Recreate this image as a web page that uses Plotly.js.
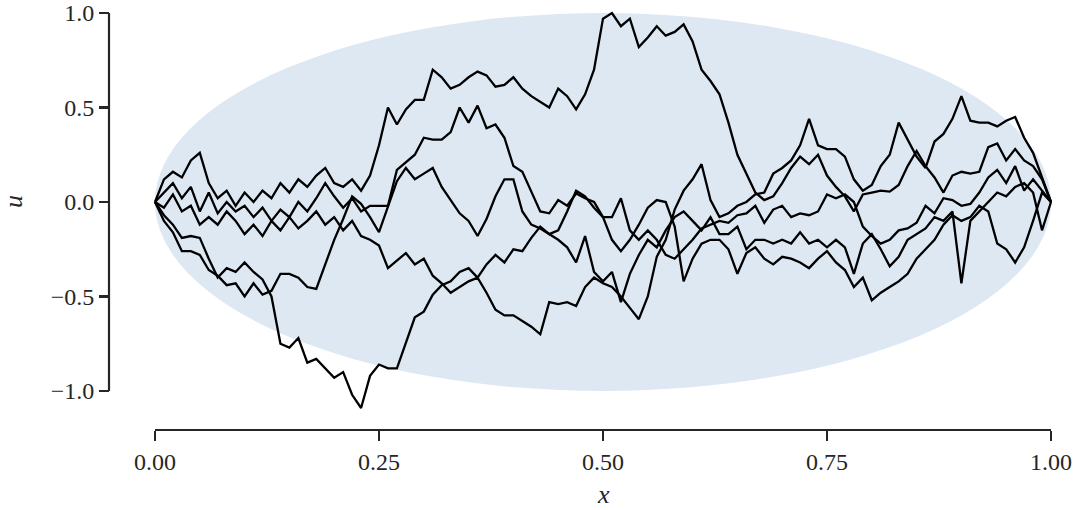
<!DOCTYPE html>
<html>
<head>
<meta charset="utf-8">
<script src="https://cdn.plot.ly/plotly-3.0.1.min.js"></script>
<style>
html,body{margin:0;padding:0;background:#ffffff;}
#chart{width:1081px;height:510px;}
</style>
</head>
<body>
<div id="chart"></div>
<script>
// ---------------- data ----------------
const xGrid = [0,0.01,0.02,0.03,0.04,0.05,0.06,0.07,0.08,0.09,0.1,0.11,0.12,0.13,0.14,0.15,0.16,0.17,0.18,0.19,0.2,0.21,0.22,0.23,0.24,0.25,0.26,0.27,0.28,0.29,0.3,0.31,0.32,0.33,0.34,0.35,0.36,0.37,0.38,0.39,0.4,0.41,0.42,0.43,0.44,0.45,0.46,0.47,0.48,0.49,0.5,0.51,0.52,0.53,0.54,0.55,0.56,0.57,0.58,0.59,0.6,0.61,0.62,0.63,0.64,0.65,0.66,0.67,0.68,0.69,0.7,0.71,0.72,0.73,0.74,0.75,0.76,0.77,0.78,0.79,0.8,0.81,0.82,0.83,0.84,0.85,0.86,0.87,0.88,0.89,0.9,0.91,0.92,0.93,0.94,0.95,0.96,0.97,0.98,0.99,1];

const pathHigh = [0,0.12,0.16,0.13,0.22,0.26,0.1,0.02,0.06,-0.02,0.05,0,0.06,0.02,0.1,0.05,0.12,0.08,0.14,0.18,0.1,0.08,0.12,0.06,0.14,0.3,0.5,0.41,0.49,0.54,0.54,0.7,0.66,0.6,0.62,0.66,0.69,0.67,0.61,0.62,0.66,0.6,0.56,0.53,0.5,0.6,0.56,0.49,0.57,0.7,0.97,1.0,0.93,0.97,0.82,0.87,0.93,0.88,0.9,0.94,0.85,0.7,0.64,0.57,0.42,0.25,0.15,0.05,0.01,0.03,0.1,0.18,0.24,0.2,0.25,0.14,0.08,0.03,-0.05,0.04,0.05,0.06,0.055,0.09,0.19,0.27,0.19,0.13,0.05,0.14,0.16,0.15,0.16,0.29,0.31,0.22,0.28,0.22,0.19,0.12,0];

const pathB = [0,0.05,0.1,0.02,0.08,-0.05,0.05,-0.06,0,-0.05,-0.02,-0.08,-0.03,-0.1,-0.04,-0.08,0,-0.05,0.02,0.1,0.03,-0.03,0.02,-0.05,-0.02,-0.02,-0.02,0.17,0.21,0.25,0.34,0.33,0.33,0.37,0.5,0.42,0.51,0.39,0.41,0.34,0.19,0.16,0.055,-0.05,-0.06,0.01,-0.02,0.045,0.02,0,-0.08,-0.08,0.02,-0.15,-0.2,-0.15,-0.2,-0.28,-0.3,-0.25,-0.2,-0.14,-0.12,-0.1,-0.11,-0.07,-0.06,-0.02,-0.11,-0.04,-0.02,-0.08,-0.06,-0.07,-0.05,0.04,0.02,0.04,0,-0.13,-0.18,-0.22,-0.2,-0.15,-0.14,-0.11,-0.02,-0.06,0.02,0.01,-0.02,-0.01,0.05,0.13,0.17,0.1,0.19,0.06,0.12,0.06,0];

const pathC = [0,-0.1,-0.16,-0.26,-0.26,-0.28,-0.36,-0.39,-0.44,-0.43,-0.5,-0.43,-0.49,-0.47,-0.38,-0.38,-0.4,-0.45,-0.46,-0.33,-0.2,-0.09,0.03,-0.01,-0.08,-0.16,-0.03,0.11,0.18,0.12,0.15,0.18,0.08,0.01,-0.06,-0.1,-0.18,-0.09,0.03,0.12,0.12,-0.05,-0.12,-0.14,-0.17,-0.2,-0.24,-0.32,-0.18,-0.37,-0.42,-0.37,-0.53,-0.38,-0.28,-0.2,-0.24,-0.15,-0.08,-0.05,-0.1,-0.15,-0.08,-0.17,-0.17,-0.13,-0.25,-0.2,-0.2,-0.22,-0.2,-0.22,-0.16,-0.22,-0.2,-0.24,-0.2,-0.24,-0.38,-0.22,-0.17,-0.25,-0.34,-0.29,-0.2,-0.17,-0.14,-0.08,-0.1,-0.05,-0.43,-0.1,-0.05,0,0.05,0.03,0.08,0.1,0.05,-0.15,0];

const pathD = [0,-0.03,0.04,-0.05,-0.02,-0.12,-0.08,-0.12,-0.05,-0.1,-0.17,-0.12,-0.18,-0.1,-0.15,-0.08,-0.14,-0.1,-0.05,-0.12,-0.08,-0.15,-0.1,-0.18,-0.2,-0.23,-0.35,-0.31,-0.27,-0.33,-0.3,-0.39,-0.43,-0.48,-0.45,-0.42,-0.4,-0.48,-0.57,-0.6,-0.6,-0.63,-0.66,-0.7,-0.53,-0.54,-0.53,-0.55,-0.45,-0.4,-0.43,-0.45,-0.5,-0.56,-0.62,-0.5,-0.29,-0.2,-0.04,0.06,0.12,0.2,0.01,-0.08,-0.06,-0.02,0,0.04,0.05,0.15,0.18,0.22,0.3,0.44,0.3,0.28,0.28,0.24,0.12,0.06,0.09,0.19,0.25,0.42,0.33,0.24,0.18,0.32,0.36,0.44,0.56,0.43,0.42,0.42,0.4,0.43,0.45,0.34,0.26,0.13,0];

const pathLow = [0,-0.07,-0.12,-0.19,-0.18,-0.19,-0.3,-0.4,-0.35,-0.37,-0.32,-0.37,-0.41,-0.5,-0.75,-0.77,-0.72,-0.85,-0.83,-0.88,-0.93,-0.9,-1.02,-1.09,-0.92,-0.86,-0.88,-0.88,-0.74,-0.61,-0.58,-0.49,-0.44,-0.42,-0.37,-0.35,-0.4,-0.33,-0.28,-0.32,-0.25,-0.26,-0.19,-0.13,-0.17,-0.15,-0.05,0.06,0.03,-0.03,-0.08,-0.2,-0.26,-0.2,-0.12,-0.03,0.01,0,-0.13,-0.42,-0.3,-0.22,-0.2,-0.2,-0.25,-0.38,-0.27,-0.24,-0.3,-0.33,-0.29,-0.3,-0.32,-0.35,-0.3,-0.26,-0.32,-0.36,-0.45,-0.4,-0.52,-0.48,-0.45,-0.42,-0.38,-0.3,-0.25,-0.2,-0.12,-0.07,-0.1,-0.08,-0.02,-0.05,-0.22,-0.25,-0.32,-0.24,-0.1,0.05,0];

const paths = [pathHigh, pathB, pathC, pathD, pathLow];

const xTickVals = [0, 0.25, 0.5, 0.75, 1];
const xTickText = ['0.00', '0.25', '0.50', '0.75', '1.00'];
const yTickVals = [-1, -0.5, 0, 0.5, 1];
const yTickText = ['\u22121.0', '\u22120.5', '0.0', '0.5', '1.0'];

// ---------------- layout geometry (pixels) ----------------
const W = 1081, H = 510;
const PX0 = 155, PX1 = 1051;   // pixel of x = 0 and x = 1
const PYTOP = 13, PYBOT = 391; // pixel of u = 1 and u = -1
const YAXIS_PX = 109;          // y spine position
const XAXIS_PY = 430;          // x spine position
const xr = [-0.012, 1.012];
const yr = [-1.14, 1.06];
const sx = PX1 - PX0;
const sy = (PYBOT - PYTOP) / 2;
const fx = px => px / W;
const fy = py => (H - py) / H;
const pyOf = u => PYTOP + (1 - u) * sy;

const FONT = 'Liberation Serif, DejaVu Serif, serif';
const INK = '#262626';

const traces = paths.map(p => ({
  type: 'scatter',
  mode: 'lines',
  x: xGrid,
  y: p,
  line: {color: '#000000', width: 2.3},
  hoverinfo: 'skip',
  showlegend: false
}));

const layout = {
  width: W,
  height: H,
  margin: {l: 0, r: 0, t: 0, b: 0, pad: 0},
  paper_bgcolor: '#ffffff',
  plot_bgcolor: 'rgba(0,0,0,0)',
  showlegend: false,
  font: {family: FONT, color: INK, size: 24},
  xaxis: {
    range: xr,
    domain: [fx(PX0 + xr[0] * sx), fx(PX0 + xr[1] * sx)],
    anchor: 'free',
    position: fy(XAXIS_PY),
    showgrid: false,
    zeroline: false,
    showline: false,
    ticks: 'outside',
    ticklen: 10,
    tickwidth: 2.2,
    tickcolor: INK,
    tickvals: xTickVals,
    ticktext: xTickText,
    tickfont: {family: FONT, size: 24, color: INK},
    automargin: false,
    fixedrange: true
  },
  yaxis: {
    range: yr,
    domain: [fy(pyOf(yr[0])), fy(pyOf(yr[1]))],
    anchor: 'free',
    position: fx(YAXIS_PX),
    showgrid: false,
    zeroline: false,
    showline: false,
    ticks: 'outside',
    ticklen: 10,
    tickwidth: 2.2,
    tickcolor: INK,
    tickvals: yTickVals,
    ticktext: yTickText,
    tickfont: {family: FONT, size: 24, color: INK},
    automargin: false,
    fixedrange: true
  },
  shapes: [
    {type: 'circle', xref: 'x', yref: 'y', x0: 0, x1: 1, y0: -1, y1: 1,
     fillcolor: '#dde8f3', line: {width: 0}, layer: 'below'},
    {type: 'line', xref: 'paper', yref: 'paper',
     x0: fx(YAXIS_PX), x1: fx(YAXIS_PX), y0: fy(PYTOP), y1: fy(PYBOT),
     line: {color: INK, width: 2.2}},
    {type: 'line', xref: 'paper', yref: 'paper',
     x0: fx(PX0), x1: fx(PX1), y0: fy(XAXIS_PY), y1: fy(XAXIS_PY),
     line: {color: INK, width: 2.2}}
  ],
  annotations: [
    {text: '<i>x</i>', xref: 'paper', yref: 'paper', x: fx((PX0 + PX1) / 2), y: fy(494),
     xanchor: 'center', yanchor: 'middle', showarrow: false,
     font: {family: FONT, size: 26, color: INK}},
    {text: '<i>u</i>', xref: 'paper', yref: 'paper', x: fx(13), y: fy(pyOf(0)),
     xanchor: 'center', yanchor: 'middle', textangle: -90, showarrow: false,
     font: {family: FONT, size: 26, color: INK}}
  ]
};

Plotly.newPlot('chart', traces, layout, {staticPlot: true, displayModeBar: false});
</script>
</body>
</html>
